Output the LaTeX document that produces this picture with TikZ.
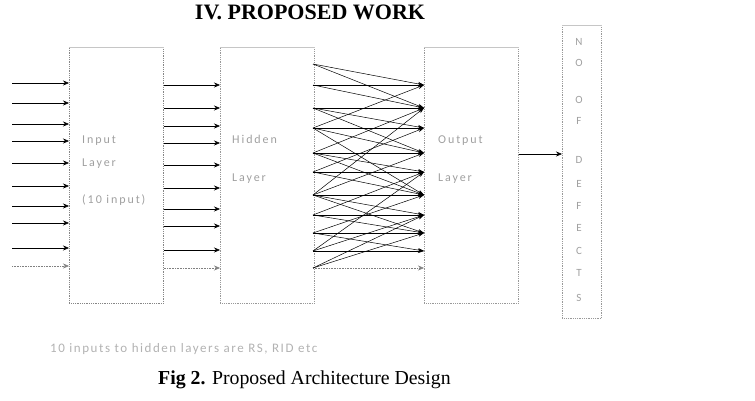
\documentclass[tikz,border=0pt]{standalone}
\usepackage{fontspec}
\setmainfont{Liberation Serif}
\newfontfamily\labfont[LetterSpace=16]{Carlito}
\newfontfamily\notefont[LetterSpace=12]{Carlito}
\usetikzlibrary{arrows.meta}
\begin{document}
\begin{tikzpicture}[x=1pt,y=-1pt,
  layerbox/.style={draw=gray!80, densely dotted, line width=0.8pt, minimum width=94pt, minimum height=256pt, inner sep=0pt, anchor=north west},
  topline/.style={draw=gray!45, line width=0.8pt},
  arr/.style={draw=black, line width=0.6pt, -{Stealth[length=6pt,width=5pt]}},
  darr/.style={arr, densely dotted, draw=gray},
  mesh/.style={draw=black, line width=0.5pt, -{Stealth[length=6pt,width=4pt]}},
  lab/.style={font=\labfont\fontsize{12}{14}\selectfont, text=gray!75, anchor=base west, inner sep=0pt},
  letter/.style={font=\labfont\fontsize{11}{13}\selectfont, text=gray!75, anchor=base, inner sep=0pt}]
\useasboundingbox (0,0) rectangle (755,401);

\node[font=\bfseries\fontsize{22}{24}\selectfont, anchor=base, inner sep=0pt] (title) at (310,19.5) {IV. PROPOSED WORK};

\node[layerbox, draw=gray!95] (inbox) at (69,47) {};
\node[layerbox] (hidbox) at (220,47) {};
\node[layerbox] (outbox) at (424,47) {};
\node[layerbox, minimum width=39pt, minimum height=293pt] (defbox) at (562,25) {};
\foreach \b in {inbox,hidbox,outbox,defbox}
  \draw[topline] (\b.north west) -- (\b.north east);

% input arrows
\foreach \y [count=\i] in {83,103,124,141,163,186,206,223,248} {
  \coordinate (ia\i) at (12,\y);
  \draw[arr] (ia\i) -- (ia\i -| inbox.west);
}
\coordinate (ia10) at (12,266);
\draw[darr] (ia10) -- (ia10 -| inbox.west);

% input -> hidden arrows
\foreach \y [count=\i] in {85,108,126,143,165,188,209,226,250} {
  \coordinate (ha\i) at (163,\y);
  \draw[arr] (ha\i -| inbox.east) -- (ha\i -| hidbox.west);
}
\coordinate (ha10) at (163,268);
\draw[darr] (ha10 -| inbox.east) -- (ha10 -| hidbox.west);

% hidden -> output mesh
\foreach \y [count=\i from 0] in {64,85,108,128,153,172,195,215,233,251} {
  \coordinate (hl\i) at (313,\y);
  \coordinate (or\i) at (424,\y);
}
\coordinate (hl10) at (313,268);
\coordinate (or10) at (424,268);
\foreach \i in {1,...,9}
  \draw[mesh] (hl\i) -- (or\i);
\draw[darr] (hl10) -- (or10);
\foreach \i/\j in {0/1,1/2,2/3,3/4,4/5,5/6,6/7,7/8,8/9,0/2,2/4,4/6,6/8,3/6}
  \draw[mesh] (hl\i) -- (or\j);
\foreach \i/\j in {3/1,4/2,5/3,6/4,7/5,8/6,9/7,10/8,9/5,10/7,6/2}
  \draw[mesh] (hl\i) -- (or\j);

% output -> defects
\coordinate (od) at (518,154);
\draw[arr] (od -| outbox.east) -- (od -| defbox.west);

% labels
\node[lab] (l1) at (82,143) {Input};
\node[lab] (l2) at (82,166) {Layer};
\node[lab] (l3) at (82,204) {(10 input)};
\node[lab] (l4) at (232,143) {Hidden};
\node[lab] (l5) at (232,181) {Layer};
\node[lab] (l6) at (438,143) {Output};
\node[lab] (l7) at (438,181) {Layer};

\foreach \t/\y [count=\k] in {N/46,O/67,O/104,F/125,D/164,E/187,F/209,E/231,C/254,T/276,S/301}
  \node[letter] (d\k) at (579,\y) {\t};

\node[font=\notefont\fontsize{13}{15}\selectfont, text=gray!60, anchor=base west, inner sep=0pt] (note) at (50,352) {10 inputs to hidden layers are RS, RID etc};
\node[font=\fontsize{19.8}{22}\selectfont, anchor=base west, inner sep=0pt] (cap) at (158,384) {\textbf{Fig 2.} Proposed Architecture Design};
\end{tikzpicture}
\end{document}
